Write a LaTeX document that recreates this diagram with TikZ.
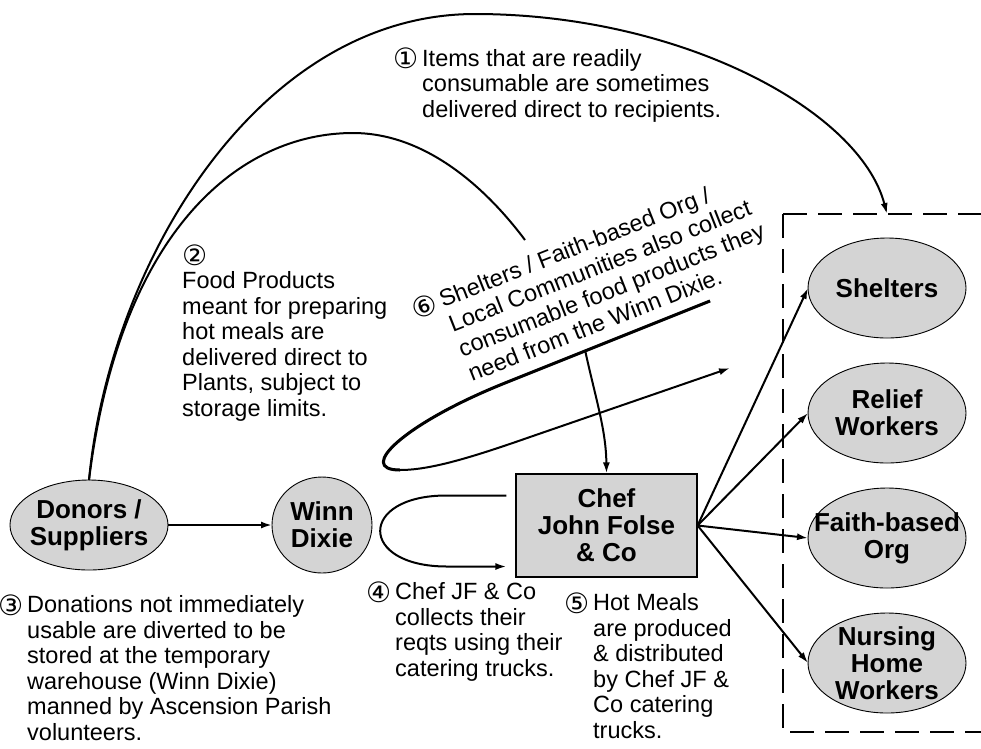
\documentclass[tikz,border=0pt]{standalone}
\usepackage{fontspec}
\setmainfont{Liberation Sans}
\newfontfamily\cnumfont{DejaVu Sans}
\usetikzlibrary{arrows.meta,shapes.geometric}
\newcommand\circnum[1]{\raisebox{-2.5pt}{\cnumfont\fontsize{28}{28}\selectfont#1}}
\begin{document}
\begin{tikzpicture}[x=1pt,y=-1pt,
  ell/.style={ellipse, draw=black, line width=0.9pt, fill=black!17, inner sep=0pt, outer sep=0pt,
    minimum width=158pt, minimum height=100pt},
  lbl/.style={font=\fontsize{26}{27}\selectfont\bfseries, align=center},
  conn/.style={line width=2pt, -{Latex[length=11pt,width=7pt]}},
  plain/.style={line width=2pt},
  thick3/.style={line width=3pt},
  note/.style={font=\fontsize{23.5}{25.5}\selectfont, align=left, inner sep=0pt, anchor=base west},
  dashbox/.style={line width=2.6pt, dash pattern=on 24pt off 11pt}
]
\useasboundingbox (0,0) rectangle (981,748);

% nodes
\node[ell, minimum width=158pt, minimum height=90pt, label={[lbl]center:Donors /\\Suppliers}] (donors) at (89,525) {};
\node[ell, minimum width=100pt, minimum height=96pt, label={[lbl]center:Winn\\Dixie}] (winn) at (322,525) {};
\node[draw=black, line width=1.2pt, fill=black!17, minimum width=181pt, minimum height=103pt, inner sep=0pt, lbl] (chef) at (606.5,525.5) {Chef\\John Folse\\\& Co};

\node[ell, label={[lbl]center:Shelters}] (shelters) at (887,288) {};
\node[ell, label={[lbl]center:Relief\\Workers}] (relief) at (887,413) {};
\node[ell, label={[lbl]center:Faith-based\\Org}] (faith) at (887,538) {};
\node[ell, label={[lbl]center:Nursing\\Home\\Workers}] (nursing) at (887,663) {};

% dashed recipients box (open on the right)
\draw[dashbox] (783,214) -- (981,214);
\draw[dashbox] (783,214) -- (783,732) -- (981,732);

% connectors
\coordinate (dtop) at (887,214);
\draw[conn] (donors.north) .. controls (110,260) and (260,14) .. (475,14)
  .. controls (680,14) and (860,110) .. (dtop);
\coordinate (e2) at (525,240);
\draw[plain] (donors.north) .. controls (120,230) and (240,133) .. (353,133)
  .. controls (420,133) and (480,180) .. (e2);

\draw[conn] (donors) -- (winn);

\draw[conn] ([shift={(-9,-30)}]chef.west) -- ++(-60,0)
  .. controls (358,495.5) and (358,566.5) .. (447,566.5) -- ([shift={(-9,41)}]chef.west);

\coordinate (s0) at (710,301);
\coordinate (s1) at (730,368);
\draw[thick3] (s0) -- (505,383) .. controls (405,423) and (355,470) .. (400,470);
\draw[conn] (s0) -- (505,383) .. controls (405,423) and (355,470) .. (400,470)
  .. controls (430,470) and (470,458) .. (530,437) -- (s1);

\coordinate (c6) at (585,350);
\draw[conn] (c6) .. controls (596,400) and (606,430) .. (chef.north);

\foreach \t in {shelters,relief,faith,nursing}
  \draw[conn] (chef.east) -- (\t.west);

% notes (anchor = baseline of the last line)
\node[note] (n1) at (422,117) {\llap{\circnum{①}\,}Items that are readily\\consumable are sometimes\\delivered direct to recipients.};
\node[note] (n2) at (182,416) {\circnum{②}\\Food Products\\meant for preparing\\hot meals are\\delivered direct to\\Plants, subject to\\storage limits.};
\node[note] (n3) at (27,740) {\llap{\circnum{③}\,}Donations not immediately\\usable are diverted to be\\stored at the temporary\\warehouse (Winn Dixie)\\manned by Ascension Parish\\volunteers.};
\node[note] (n4) at (395,676) {\llap{\circnum{④}\,}Chef JF \& Co\\collects their\\reqts using their\\catering trucks.};
\node[note] (n5) at (593,738) {\llap{\circnum{⑤}\,}Hot Meals\\are produced\\\& distributed\\by Chef JF \&\\Co catering\\trucks.};
\node[note, font=\fontsize{23.5}{26.5}\selectfont, rotate=21.5] (n6) at (472,382) {\llap{\circnum{⑥}\,}Shelters / Faith-based Org /\\Local Communities also collect\\consumable food products they\\need from the Winn Dixie.};
\end{tikzpicture}
\end{document}
